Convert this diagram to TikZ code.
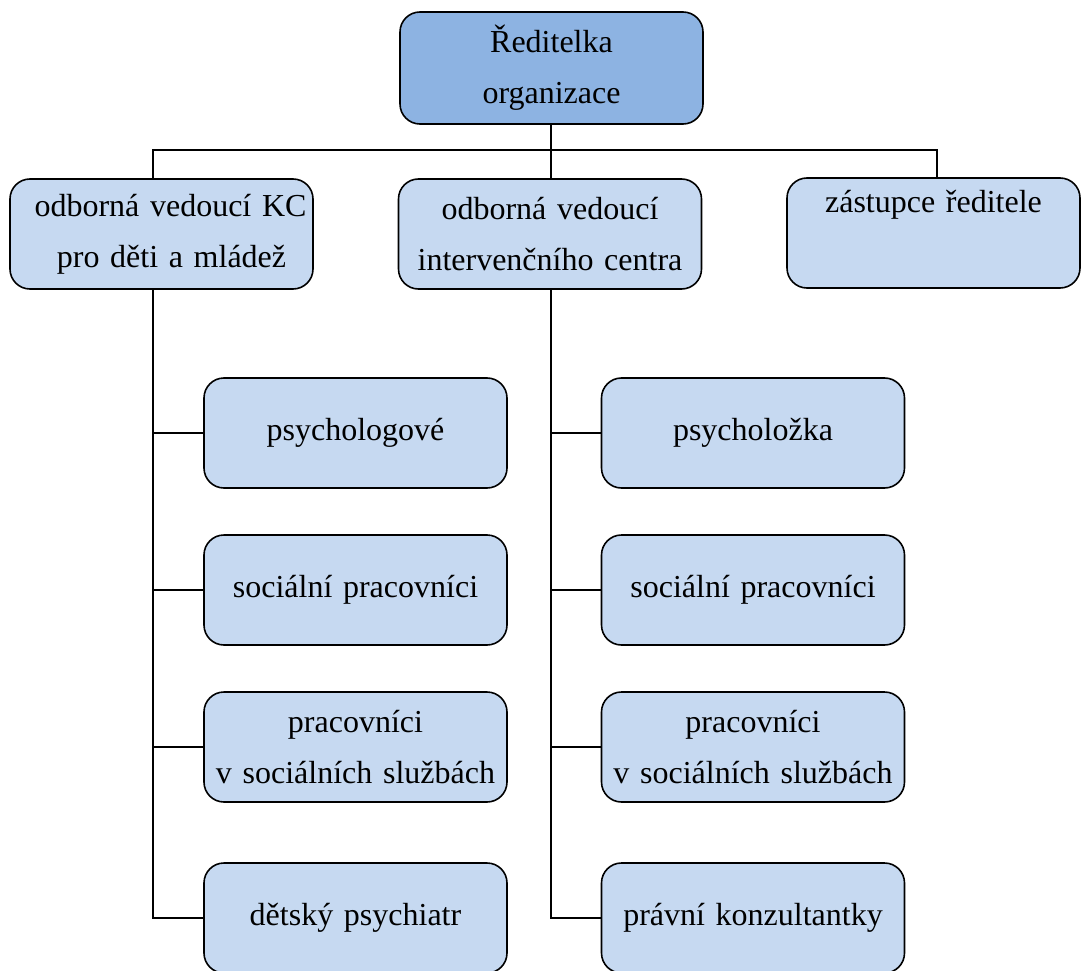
\documentclass[tikz,border=0pt]{standalone}
\usepackage{fontspec}
\setmainfont{Liberation Serif}[WordSpace=0.8]
\begin{document}
\begin{tikzpicture}[x=1pt, y=-1pt]
			\tikzset{ unit/.style={draw=black, line width=1.6pt, rounded corners=20pt, fill=unitblue, inner sep=0pt, minimum width=303pt, minimum height=110pt, text width=295pt, align=center, font=\fontsize{32}{51}\selectfont} }
			\tikzset{ head/.style={unit, fill=headblue, minimum height=112pt} }
			\tikzset{ link/.style={line width=1.6pt} }
			\definecolor{unitblue}{HTML}{C6D9F1}
			\definecolor{headblue}{HTML}{8DB3E2}
			\useasboundingbox (0,0) rectangle (1082,971);
			\clip (0,0) rectangle (1082,971);
			% top and second row
			\node[head] (ředitelka) at (551.5,68) {Ředitelka\\organizace};
			\node[unit] (kc) at (161.5,234) {\hspace*{18pt}odborná vedoucí KC\\\hspace*{20pt}pro děti a mládež};
			\node[unit] (ic) at (550,234) {odborná vedoucí\hspace*{28pt}\\intervenčního centra};
			\node[unit, minimum width=293pt, text width=285pt] (zr) at (933.5,233) {\raisebox{-3pt}{zástupce ředitele}\\\strut};
			\coordinate (bus) at (551,150);
			\draw[link] ([xshift=-0.5pt]ředitelka.south) -- ([xshift=-0.5pt]ředitelka.south |- ic.north);
			\draw[link] ([xshift=-8.5pt]kc.north) |- (bus) -| ([xshift=3.5pt]zr.north);
			% children of both centres
			\foreach \txt [count=\row from 0] in {psychologové, sociální pracovníci, {pracovníci\\v sociálních službách}, dětský psychiatr} {
					\pgfmathsetmacro{\y}{433 + \row * 157 + (\row==3) * 14}
					\node[unit] (kc\row) at (355.5,\y) {\txt};
					\draw[link] ([xshift=-8.5pt]kc.south) |- (kc\row.west);
				}
			\foreach \txt [count=\row from 0] in {psycholožka, sociální pracovníci, {pracovníci\\v sociálních službách}, právní konzultantky} {
					\pgfmathsetmacro{\y}{433 + \row * 157 + (\row==3) * 14}
					\node[unit] (ic\row) at (753,\y) {\txt};
					\draw[link] ([xshift=1pt]ic.south) |- (ic\row.west);
				}
		\end{tikzpicture}
\end{document}
